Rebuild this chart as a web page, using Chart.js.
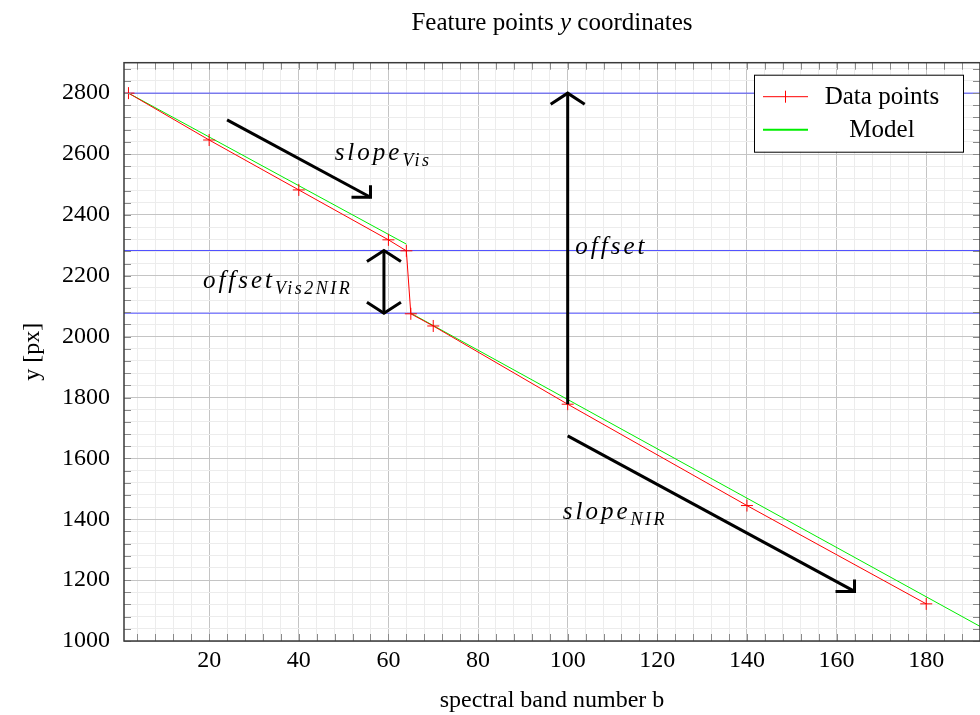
<!DOCTYPE html>
<html>
<head>
<meta charset="utf-8">
<title>Feature points y coordinates</title>
<script src="https://cdn.jsdelivr.net/npm/chart.js@4.4.1/dist/chart.umd.min.js"></script>
<style>
    html, body { margin: 0; padding: 0; background: #ffffff; }
    #wrap { width: 980px; height: 715px; position: relative; }
</style>
</head>
<body>
<div id="wrap"><canvas id="chart"></canvas></div>
<script>
// --- Data ---
// measured feature point positions per spectral band
const bands = [2, 20, 40, 60, 64, 65, 70, 100, 140, 180];
const yCoords = [2800, 2646, 2482, 2318, 2282, 2075, 2035, 1778, 1445, 1122];

// fitted model: a Vis segment and a NIR segment (null = gap)
const modelBands = [2, 64, 64.5, 65, 192];
const modelY = [2800, 2304, null, 2077, 1048];

// horizontal reference levels
const refLevels = [2800, 2283, 2077];

// axis ranges and labelled ticks
const xRange = [1, 192];
const yRange = [1000, 2900];
const xLabels = [20, 40, 60, 80, 100, 120, 140, 160, 180];
const yLabels = [1000, 1200, 1400, 1600, 1800, 2000, 2200, 2400, 2600, 2800];
const xMinorStep = 4;
const yMinorStep = 40;

// title pieces (the "y" is set in italics)
const titleParts = [
    { text: 'Feature points ', italic: false },
    { text: 'y', italic: true },
    { text: ' coordinates', italic: false }
];

// annotations, in data coordinates
const arrows = [
    { from: [24, 2712], to: [56, 2458], head: 'corner' },
    { from: [59, 2283], to: [59, 2077], head: 'both' },
    { from: [100, 1778], to: [100, 2800], head: 'chevron' },
    { from: [100, 1674], to: [164, 1163], head: 'corner' }
];
const notes = [
    { at: [48, 2581], main: 'slope', sub: 'Vis' },
    { at: [101.7, 2271], main: 'offset', sub: '' },
    { at: [18.6, 2161], main: 'offset', sub: 'Vis2NIR' },
    { at: [98.9, 1401], main: 'slope', sub: 'NIR' }
];

// --- Styles ---
const SERIF = "'Liberation Serif', 'Times New Roman', serif";
const RED = '#ff0000';
const GREEN = '#00ee00';
const BLUE = '#4f4fff';

function gridValues(min, max, step) {
    const vals = [];
    for (let v = Math.ceil(min / step) * step; v <= max; v += step) vals.push(v);
    return vals;
}

// --- Plugins ---
const plotTitle = {
    id: 'plotTitle',
    afterDraw(chart) {
        const { ctx, chartArea: a } = chart;
        ctx.save();
        ctx.fillStyle = '#000000';
        ctx.textBaseline = 'alphabetic';
        ctx.textAlign = 'left';
        const fontOf = p => `${p.italic ? 'italic ' : ''}25px ${SERIF}`;
        let total = 0;
        titleParts.forEach(p => { ctx.font = fontOf(p); total += ctx.measureText(p.text).width; });
        let x = (a.left + a.right) / 2 - total / 2;
        titleParts.forEach(p => {
            ctx.font = fontOf(p);
            ctx.fillText(p.text, x, 30);
            x += ctx.measureText(p.text).width;
        });
        ctx.restore();
    }
};

const frameTicks = {
    id: 'frameTicks',
    afterDraw(chart) {
        const { ctx, chartArea: a, scales } = chart;
        ctx.save();
        ctx.strokeStyle = '#8a8a8a';
        ctx.lineWidth = 1;
        ctx.beginPath();
        scales.x.ticks.forEach(t => {
            const px = Math.round(scales.x.getPixelForValue(t.value)) + 0.5;
            ctx.moveTo(px, a.bottom); ctx.lineTo(px, a.bottom - 7);
            ctx.moveTo(px, a.top); ctx.lineTo(px, a.top + 7);
        });
        scales.y.ticks.forEach(t => {
            const py = Math.round(scales.y.getPixelForValue(t.value)) + 0.5;
            ctx.moveTo(a.left, py); ctx.lineTo(a.left + 7, py);
            ctx.moveTo(a.right, py); ctx.lineTo(a.right - 7, py);
        });
        ctx.stroke();
        ctx.strokeStyle = '#3a3a3a';
        ctx.lineWidth = 1.5;
        ctx.strokeRect(a.left, a.top, a.right - a.left, a.bottom - a.top);
        ctx.restore();
    }
};

const annotations = {
    id: 'annotations',
    afterDatasetsDraw(chart) {
        const { ctx, scales: { x, y } } = chart;
        const P = ([vx, vy]) => [x.getPixelForValue(vx), y.getPixelForValue(vy)];
        ctx.save();
        ctx.strokeStyle = '#000000';
        ctx.lineWidth = 3;
        ctx.lineCap = 'butt';
        ctx.lineJoin = 'miter';
        arrows.forEach(ar => {
            const [x0, y0] = P(ar.from);
            const [x1, y1] = P(ar.to);
            ctx.beginPath();
            ctx.moveTo(x0, y0); ctx.lineTo(x1, y1);
            ctx.stroke();
            ctx.beginPath();
            if (ar.head === 'corner') {
                ctx.moveTo(x1 - 19, y1); ctx.lineTo(x1, y1); ctx.lineTo(x1, y1 - 12);
            } else {
                const dir = Math.sign(y1 - y0);
                ctx.moveTo(x1 - 17, y1 - dir * 11); ctx.lineTo(x1, y1); ctx.lineTo(x1 + 17, y1 - dir * 11);
                if (ar.head === 'both') {
                    ctx.moveTo(x0 - 17, y0 + dir * 11); ctx.lineTo(x0, y0); ctx.lineTo(x0 + 17, y0 + dir * 11);
                }
            }
            ctx.stroke();
        });

        ctx.fillStyle = '#000000';
        ctx.textBaseline = 'alphabetic';
        ctx.textAlign = 'left';
        notes.forEach(n => {
            const [px, py] = P(n.at);
            ctx.font = `italic 25px ${SERIF}`;
            ctx.letterSpacing = '3px';
            ctx.fillText(n.main, px, py);
            const w = ctx.measureText(n.main).width;
            if (n.sub) {
                ctx.font = `italic 18px ${SERIF}`;
                ctx.letterSpacing = '2.5px';
                ctx.fillText(n.sub, px + w, py + 6);
            }
        });
        ctx.letterSpacing = '0px';
        ctx.restore();
    }
};

const boxLegend = {
    id: 'boxLegend',
    afterDraw(chart) {
        const { ctx, chartArea: a } = chart;
        const left = a.right - 226, top = a.top + 12, w = 209, h = 77;
        ctx.save();
        ctx.fillStyle = '#ffffff';
        ctx.fillRect(left, top, w, h);
        ctx.strokeStyle = '#000000';
        ctx.lineWidth = 1;
        ctx.strokeRect(left + 0.5, top + 0.5, w, h);
        const rows = [
            { ds: chart.data.datasets[0], cy: top + 22, marker: true },
            { ds: chart.data.datasets[1], cy: top + 55, marker: false }
        ];
        ctx.font = `25px ${SERIF}`;
        ctx.textAlign = 'center';
        ctx.textBaseline = 'middle';
        rows.forEach(r => {
            ctx.strokeStyle = r.ds.borderColor;
            ctx.lineWidth = r.marker ? 1 : 2;
            ctx.beginPath();
            ctx.moveTo(left + 9, r.cy); ctx.lineTo(left + 54, r.cy);
            if (r.marker) {
                ctx.moveTo(left + 31.5, r.cy - 6); ctx.lineTo(left + 31.5, r.cy + 6);
            }
            ctx.stroke();
            ctx.fillStyle = '#000000';
            ctx.fillText(r.ds.label, left + 128, r.cy + 1);
        });
        ctx.restore();
    }
};

// --- Chart ---
const xGrid = gridValues(xRange[0] + 1, xRange[1] - 1, xMinorStep);
const yGrid = gridValues(yRange[0], yRange[1] - 1, yMinorStep);

const datasets = [
    {
        label: 'Data points',
        data: bands.map((b, i) => ({ x: b, y: yCoords[i] })),
        borderColor: RED,
        backgroundColor: RED,
        borderWidth: 1,
        pointStyle: 'cross',
        pointRadius: 6,
        pointBorderWidth: 1,
        pointBorderColor: RED,
        tension: 0
    },
    {
        label: 'Model',
        data: modelBands.map((b, i) => ({ x: b, y: modelY[i] })),
        borderColor: GREEN,
        borderWidth: 1,
        pointRadius: 0,
        spanGaps: false,
        tension: 0
    }
].concat(refLevels.map(v => ({
    label: '',
    data: [{ x: xRange[0], y: v }, { x: xRange[1], y: v }],
    borderColor: BLUE,
    borderWidth: 1,
    pointRadius: 0
})));

const ctx = document.getElementById('chart').getContext('2d');
new Chart(ctx, {
    type: 'line',
    data: { datasets },
    options: {
        responsive: true,
        maintainAspectRatio: false,
        animation: false,
        events: [],
        layout: { autoPadding: false, padding: { left: 0, right: 0, top: 62.7, bottom: 0 } },
        plugins: {
            legend: { display: false },
            tooltip: { enabled: false },
            title: { display: false }
        },
        scales: {
            x: {
                type: 'linear',
                min: xRange[0],
                max: xRange[1],
                afterBuildTicks: s => { s.ticks = xGrid.map(v => ({ value: v })); },
                afterFit: s => { s.height = 74; s.paddingLeft = 0; s.paddingRight = 0; },
                ticks: {
                    autoSkip: false,
                    maxRotation: 0,
                    padding: 5,
                    color: '#000000',
                    font: { family: SERIF, size: 24 },
                    callback: v => xLabels.includes(v) ? String(v) : ''
                },
                grid: {
                    drawTicks: false,
                    lineWidth: 1,
                    color: c => xLabels.includes(c.tick && c.tick.value) ? '#c4c4c4' : '#ececec'
                },
                border: { display: false },
                title: {
                    display: true,
                    text: 'spectral band number b',
                    color: '#000000',
                    font: { family: SERIF, size: 24 },
                    padding: { top: 0, bottom: 0 }
                }
            },
            y: {
                type: 'linear',
                min: yRange[0],
                max: yRange[1],
                afterBuildTicks: s => { s.ticks = yGrid.map(v => ({ value: v })); },
                afterFit: s => { s.width = 124; s.paddingTop = 0; s.paddingBottom = 0; },
                ticks: {
                    autoSkip: false,
                    padding: 14,
                    color: '#000000',
                    font: { family: SERIF, size: 24 },
                    callback: v => yLabels.includes(v) ? String(v) : ''
                },
                grid: {
                    drawTicks: false,
                    lineWidth: 1,
                    color: c => yLabels.includes(c.tick && c.tick.value) ? '#c4c4c4' : '#ececec'
                },
                border: { display: false },
                title: {
                    display: true,
                    text: 'y [px]',
                    color: '#000000',
                    font: { family: SERIF, size: 24 },
                    padding: { top: 18, bottom: 0 }
                }
            }
        }
    },
    plugins: [annotations, frameTicks, boxLegend, plotTitle]
});
</script>
</body>
</html>
